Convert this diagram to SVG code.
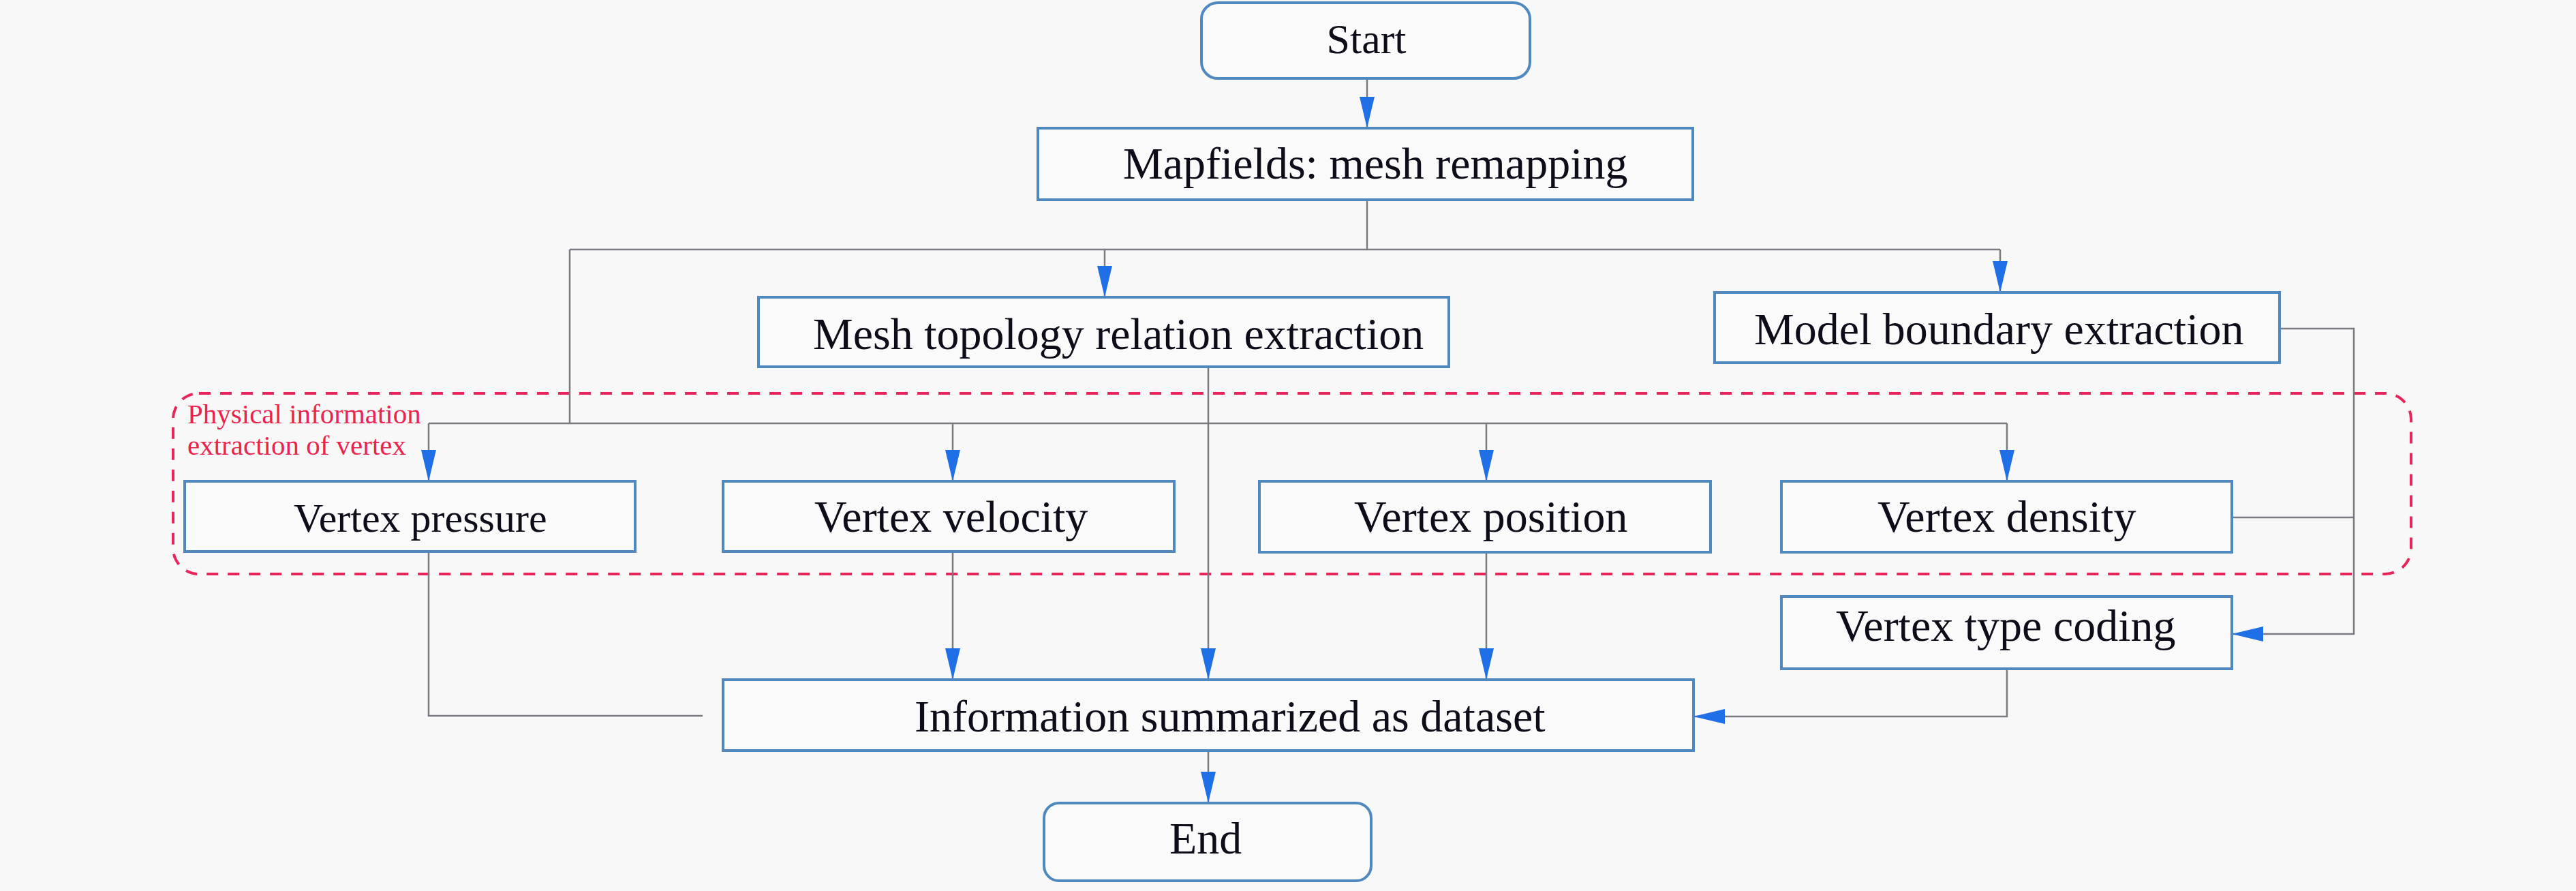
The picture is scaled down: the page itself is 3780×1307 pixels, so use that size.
<svg xmlns="http://www.w3.org/2000/svg" width="3780" height="1307" viewBox="0 0 3780 1307">
<style>
.box{fill:#fafafa;stroke:#4f89bf;stroke-width:4}
.t{font-family:"Liberation Serif","Times New Roman",serif;font-size:66px;fill:#0d0d1a}
.c{fill:none;stroke:#7a7a80;stroke-width:2.5}
.lbl{font-family:"Liberation Serif","Times New Roman",serif;font-size:41px;fill:#e8244f}
</style>
<defs>
<marker id="ah" markerUnits="userSpaceOnUse" markerWidth="46" markerHeight="22" refX="46" refY="11" orient="auto">
<path d="M0,0 L46,11 L0,22 Z" fill="#1f6fe6"/>
</marker>
</defs>
<rect width="3780" height="1307" fill="#f8f8f8"/>
<g id="group-physical">
<rect x="254" y="577" width="3284" height="265" rx="38" fill="none" stroke="#e8245a" stroke-width="4" stroke-dasharray="17,14"/>
<text class="lbl" x="275" y="621">Physical information</text>
<text class="lbl" x="275" y="667">extraction of vertex</text>
</g>
<g id="connectors">
<path class="c" d="M2006,115 V188" marker-end="url(#ah)"/>
<path class="c" d="M2006,293 V366 M836,366 H2935"/>
<path class="c" d="M1621,366 V436" marker-end="url(#ah)"/>
<path class="c" d="M2935,366 V429" marker-end="url(#ah)"/>
<path class="c" d="M836,366 V621 M629,621 H2945"/>
<path class="c" d="M629,621 V706" marker-end="url(#ah)"/>
<path class="c" d="M1398,621 V706" marker-end="url(#ah)"/>
<path class="c" d="M2181,621 V706" marker-end="url(#ah)"/>
<path class="c" d="M2945,621 V706" marker-end="url(#ah)"/>
<path class="c" d="M1773,538 V997" marker-end="url(#ah)"/>
<path class="c" d="M629,809 V1050 H1031"/>
<path class="c" d="M1398,809 V997" marker-end="url(#ah)"/>
<path class="c" d="M2181,810 V997" marker-end="url(#ah)"/>
<path class="c" d="M3345,482 H3454 V930 H3275" marker-end="url(#ah)"/>
<path class="c" d="M3275,759 H3454"/>
<path class="c" d="M2945,981 V1051 H2485" marker-end="url(#ah)"/>
<path class="c" d="M1773,1101 V1178" marker-end="url(#ah)"/>
</g>
<g id="node-start">
<rect class="box" x="1763" y="4" width="482" height="111" rx="24"/>
<text class="t" x="2005" y="78" text-anchor="middle" style="font-size:62px">Start</text>
</g>
<g id="node-mapfields">
<rect class="box" x="1523" y="188" width="961" height="105"/>
<text class="t" x="1648" y="262">Mapfields: mesh remapping</text>
</g>
<g id="node-mesh">
<rect class="box" x="1113" y="436" width="1013" height="102"/>
<text class="t" x="1193" y="512">Mesh topology relation extraction</text>
</g>
<g id="node-model">
<rect class="box" x="2516" y="429" width="829" height="103"/>
<text class="t" x="2574" y="505">Model boundary extraction</text>
</g>
<g id="node-pressure">
<rect class="box" x="271" y="706" width="661" height="103"/>
<text class="t" x="431" y="780" style="font-size:60px">Vertex pressure</text>
</g>
<g id="node-velocity">
<rect class="box" x="1061" y="706" width="662" height="103"/>
<text class="t" x="1195" y="780">Vertex velocity</text>
</g>
<g id="node-position">
<rect class="box" x="1848" y="706" width="662" height="104"/>
<text class="t" x="1987" y="780">Vertex position</text>
</g>
<g id="node-density">
<rect class="box" x="2614" y="706" width="661" height="104"/>
<text class="t" x="2755" y="780">Vertex density</text>
</g>
<g id="node-typecoding">
<rect class="box" x="2614" y="875" width="661" height="106"/>
<text class="t" x="2694" y="940">Vertex type coding</text>
</g>
<g id="node-info">
<rect class="box" x="1061" y="997" width="1424" height="104"/>
<text class="t" x="1342" y="1073">Information summarized as dataset</text>
</g>
<g id="node-end">
<rect class="box" x="1532" y="1178" width="480" height="114" rx="22"/>
<text class="t" x="1716" y="1252">End</text>
</g>
</svg>
